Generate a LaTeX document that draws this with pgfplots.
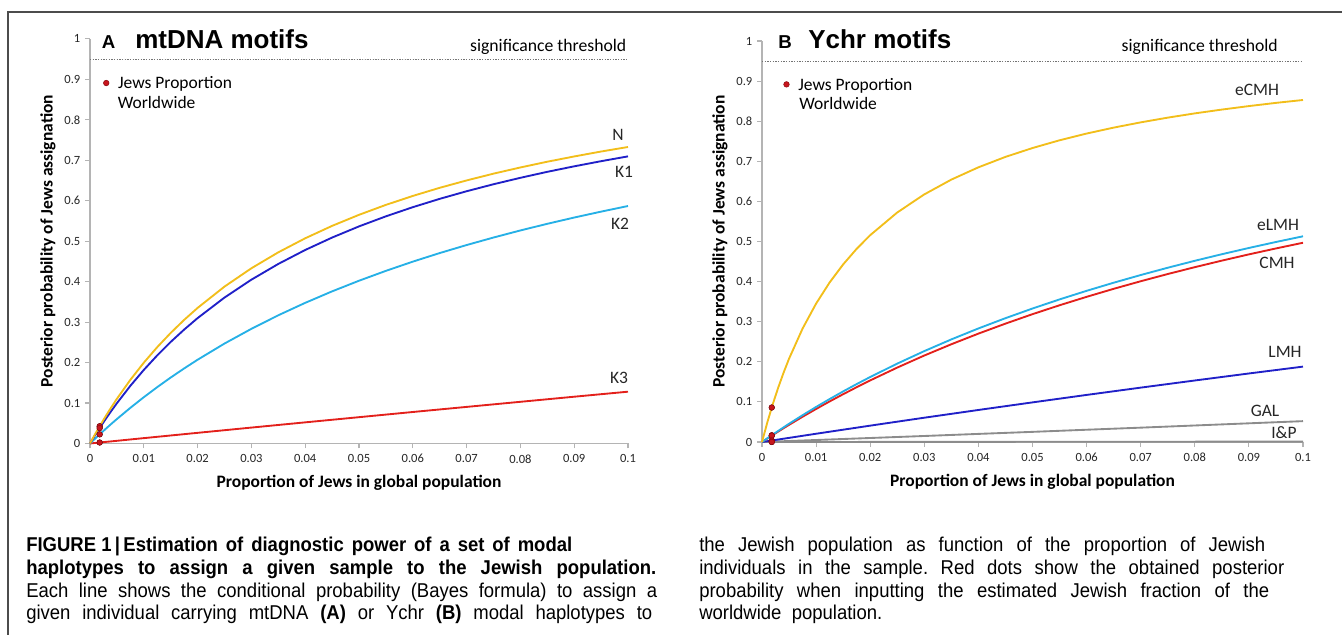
\documentclass[border=0pt]{standalone}
\usepackage{fontspec}
\setmainfont{Carlito}
\newfontfamily\arialfont{Liberation Sans}
\newfontfamily\capfont[FakeStretch=0.925]{Liberation Sans}
\usepackage{pgfplots}
\usepackage{pgfplotstable}
\pgfplotsset{compat=1.18}
\frenchspacing

\definecolor{cgold}{HTML}{F2BE1A}
\definecolor{cblue}{HTML}{2020C8}
\definecolor{ccyan}{HTML}{26B0E6}
\definecolor{cred}{HTML}{E3201B}
\definecolor{cgray}{HTML}{8C8C8C}
\definecolor{cdot}{HTML}{C8161D}
\definecolor{cdotedge}{HTML}{8B0A10}
\definecolor{caxis}{HTML}{B4B4B4}

\pgfplotstableread{
x N K1 K2
0 0 0 0
0.001 0.0241 0.0216 0.0126
0.002 0.0472 0.0422 0.0250
0.003 0.0692 0.0621 0.0371
0.004 0.0903 0.0812 0.0489
0.005 0.1104 0.0995 0.0604
0.0075 0.1573 0.1425 0.0881
0.01 0.1997 0.1818 0.1144
0.0125 0.2382 0.2178 0.1393
0.015 0.2733 0.2510 0.1630
0.0175 0.3055 0.2815 0.1855
0.02 0.3351 0.3099 0.2070
0.025 0.3878 0.3607 0.2470
0.03 0.4331 0.4049 0.2834
0.035 0.4725 0.4438 0.3169
0.04 0.5072 0.4783 0.3476
0.045 0.5379 0.5090 0.3760
0.05 0.5652 0.5366 0.4023
0.055 0.5898 0.5615 0.4267
0.06 0.6119 0.5841 0.4495
0.065 0.6320 0.6047 0.4707
0.07 0.6502 0.6235 0.4905
0.075 0.6670 0.6408 0.5091
0.08 0.6823 0.6567 0.5266
0.085 0.6965 0.6715 0.5430
0.09 0.7095 0.6851 0.5585
0.095 0.7217 0.6978 0.5731
0.1 0.7329 0.7097 0.5870
}\mtdna

\pgfplotstableread{
x K3
0 0
0.01 0.0132
0.02 0.0263
0.03 0.0393
0.04 0.0522
0.05 0.0650
0.06 0.0778
0.07 0.0904
0.08 0.1030
0.09 0.1156
0.1 0.1280
}\kthree

\pgfplotstableread{
x eCMH eLMH CMH
0 0 0 0
0.001 0.0497 0.0094 0.0088
0.002 0.0947 0.0186 0.0175
0.003 0.1358 0.0277 0.0261
0.004 0.1733 0.0367 0.0345
0.005 0.2078 0.0455 0.0428
0.0075 0.2829 0.0668 0.0630
0.01 0.3452 0.0874 0.0824
0.0125 0.3979 0.1071 0.1012
0.015 0.4429 0.1262 0.1192
0.0175 0.4818 0.1445 0.1367
0.02 0.5158 0.1621 0.1536
0.025 0.5724 0.1955 0.1856
0.03 0.6175 0.2267 0.2157
0.035 0.6544 0.2559 0.2438
0.04 0.6850 0.2832 0.2703
0.045 0.7110 0.3088 0.2952
0.05 0.7331 0.3329 0.3188
0.055 0.7524 0.3556 0.3410
0.06 0.7692 0.3770 0.3620
0.065 0.7840 0.3972 0.3820
0.07 0.7971 0.4164 0.4009
0.075 0.8089 0.4346 0.4189
0.08 0.8195 0.4519 0.4360
0.085 0.8290 0.4683 0.4523
0.09 0.8377 0.4839 0.4679
0.095 0.8457 0.4988 0.4827
0.1 0.8529 0.5130 0.4969
}\ychr

\pgfplotstableread{
x LMH GAL IP
0 0 0 0
0.01 0.0206 0.0050 0.0001
0.02 0.0408 0.0100 0.0002
0.03 0.0606 0.0150 0.0003
0.04 0.0799 0.0202 0.0004
0.05 0.0988 0.0253 0.0005
0.06 0.1174 0.0306 0.0006
0.07 0.1356 0.0358 0.0007
0.08 0.1534 0.0412 0.0008
0.09 0.1709 0.0466 0.0009
0.1 0.1880 0.0520 0.0010
}\ylin

\pgfplotstableread{
x y
0.0018 0.0426
0.0018 0.0382
0.0018 0.0225
0.0018 0.0024
}\dotsA

\pgfplotstableread{
x y
0.0018 0.0860
0.0018 0.0168
0.0018 0.0158
0.0018 0.0037
0.0018 0.0009
0.0018 0.0000
}\dotsB

\pgfplotsset{
  panel/.style={
    scale only axis,
    xmin=0, xmax=0.1, ymin=0, ymax=1,
    axis lines*=left,
    axis line style={draw=caxis, line width=0.8pt},
    xtick={0,0.01,0.02,0.03,0.04,0.05,0.06,0.07,0.08,0.09,0.1},
    xticklabels={0,0.01,0.02,0.03,0.04,0.05,0.06,0.07,0.08,0.09,0.1},
    ytick={0,0.1,0.2,0.3,0.4,0.5,0.6,0.7,0.8,0.9,1},
    yticklabels={0,0.1,0.2,0.3,0.4,0.5,0.6,0.7,0.8,0.9,1},
    tick style={draw=caxis, line width=0.8pt},
    tick align=outside,
    major tick length=3.75pt,
    /pgf/number format/assume math mode=true,
    ticklabel style={font=\fontsize{9.4}{11}\selectfont, text=black!85},
    xticklabel style={yshift=-1pt},
    label style={font=\bfseries\fontsize{13.1}{15}\selectfont, text=black},
    xlabel={Proportion of Jews in global population},
    ylabel={Posterior probability of Jews assignation},
    clip=false,
    legend style={draw=none, fill=none, inner sep=0pt, outer sep=0pt,
      anchor=west, font=\fontsize{13.1}{15}\selectfont, column sep=4.6pt},
    legend cell align=left,
  },
  dotstyle/.style={only marks, mark=none,
    legend image code/.code={\fill[draw=cdotedge, fill=cdot, line width=0.4pt] (2.1pt,0.07em) circle (2.1pt);}},
  curve/.style={line width=1.4pt, forget plot, line join=round},
}

\begin{document}
\begin{tikzpicture}
\useasboundingbox (0pt,0pt) rectangle (1006.5pt,-476.25pt);
\draw[black!70, line width=0.9pt] (6pt,-490pt) -- (6pt,-9pt) -- (1020pt,-9pt);

% Panel A
\begin{axis}[panel,
  at={(67.5pt,-332.6pt)}, anchor=south west,
  width=403.5pt, height=303.4pt,
  xlabel style={at={(axis description cs:0.5,-0.0964)}, anchor=center},
  ylabel style={at={(axis description cs:-0.078,0.5)}, anchor=center},
  legend style={at={(axis description cs:0.0245,0.8887)}},
]
\addplot[forget plot, black!55, line width=0.6pt, dash pattern=on 0.9pt off 1.1pt] coordinates {(0,0.95) (0.1,0.95)};
\addplot[curve, cred]  table[x=x, y=K3] {\kthree};
\addplot[curve, ccyan] table[x=x, y=K2] {\mtdna};
\addplot[curve, cblue] table[x=x, y=K1] {\mtdna};
\addplot[curve, cgold] table[x=x, y=N]  {\mtdna};
\addplot[dotstyle] table[x=x, y=y] {\dotsA};
\addlegendentry{Jews Proportion}
\addplot[forget plot, only marks, mark=*, mark size=2.1pt, mark options={fill=cdot, draw=cdotedge, line width=0.4pt}] table[x=x, y=y] {\dotsA};
\end{axis}

% Panel B
\begin{axis}[panel,
  at={(571.5pt,-331.5pt)}, anchor=south west,
  width=405.75pt, height=300.75pt,
  xlabel style={at={(axis description cs:0.5,-0.099)}, anchor=center},
  ylabel style={at={(axis description cs:-0.0776,0.5)}, anchor=center},
  legend style={at={(axis description cs:0.0396,0.8895)}},
]
\addplot[forget plot, black!55, line width=0.6pt, dash pattern=on 0.9pt off 1.1pt] coordinates {(0,0.95) (0.1,0.95)};
\addplot[curve, cgray] table[x=x, y=IP]   {\ylin};
\addplot[curve, cgray] table[x=x, y=GAL]  {\ylin};
\addplot[curve, cblue] table[x=x, y=LMH]  {\ylin};
\addplot[curve, cred]  table[x=x, y=CMH]  {\ychr};
\addplot[curve, ccyan] table[x=x, y=eLMH] {\ychr};
\addplot[curve, cgold] table[x=x, y=eCMH] {\ychr};
\addplot[dotstyle] table[x=x, y=y] {\dotsB};
\addlegendentry{Jews Proportion}
\addplot[forget plot, only marks, mark=*, mark size=2.1pt, mark options={fill=cdot, draw=cdotedge, line width=0.4pt}] table[x=x, y=y] {\dotsB};
\end{axis}

\begin{scope}[x=0.75pt, y=-0.75pt]
% titles
\node[anchor=base west, inner sep=0pt, font=\arialfont\bfseries\fontsize{14}{16}\selectfont] at (101.7,48.5) {A};
\node[anchor=base west, inner sep=0pt, font=\arialfont\bfseries\fontsize{19.5}{22}\selectfont] at (135,48.5) {mtDNA motifs};
\node[anchor=base west, inner sep=0pt, font=\arialfont\bfseries\fontsize{14}{16}\selectfont] at (778,48.5) {B};
\node[anchor=base west, inner sep=0pt, font=\arialfont\bfseries\fontsize{19.5}{22}\selectfont] at (808,48.5) {Ychr motifs};
% threshold
\node[anchor=base east, inner sep=0pt, font=\fontsize{13.25}{15}\selectfont] at (626.5,52) {significance threshold};
\node[anchor=base east, inner sep=0pt, font=\fontsize{13.25}{15}\selectfont] at (1278,52) {significance threshold};
% legend second line
\node[anchor=base west, inner sep=0pt, font=\fontsize{13.1}{15}\selectfont] at (117.5,108.3) {Worldwide};
\node[anchor=base west, inner sep=0pt, font=\fontsize{13.1}{15}\selectfont] at (799,109) {Worldwide};
% curve labels
\begin{scope}[every node/.style={inner sep=0pt, font=\fontsize{13.1}{15}\selectfont, text=black!85}]
\node at (618,135) {N};
\node at (624,172) {K1};
\node at (620,224) {K2};
\node at (619,378) {K3};
\node at (1257,90) {eCMH};
\node at (1278,225) {eLMH};
\node at (1277,262.7) {CMH};
\node at (1285,351.7) {LMH};
\node at (1265,411) {GAL};
\node at (1284,432.5) {I\&P};
\end{scope}
% caption
\begin{scope}[every node/.style={anchor=base west, inner sep=0pt, font=\capfont\fontsize{15}{17}\selectfont}]
\node at (26,551.7) {\makebox[409.5pt][s]{\bfseries \mbox{FIGURE 1\,|\,Estimation} of diagnostic power of a set of modal}};
\node at (26,574.4) {\makebox[472.5pt][s]{\bfseries haplotypes to assign a given sample to the Jewish population.}};
\node at (26,597.1) {\makebox[473.25pt][s]{Each line shows the conditional probability (Bayes formula) to assign a}};
\node at (26,619.8) {\makebox[469.5pt][s]{given individual carrying mtDNA \textbf{(A)} or Ychr \textbf{(B)} modal haplotypes to}};
\node at (699,551.7) {\makebox[424.5pt][s]{the Jewish population as function of the proportion of Jewish}};
\node at (699,574.4) {\makebox[438.75pt][s]{individuals in the sample. Red dots show the obtained posterior}};
\node at (699,597.1) {\makebox[427.5pt][s]{probability when inputting the estimated Jewish fraction of the}};
\node at (699,619.8) {worldwide\ \ population.};
\end{scope}
\end{scope}
\end{tikzpicture}
\end{document}
